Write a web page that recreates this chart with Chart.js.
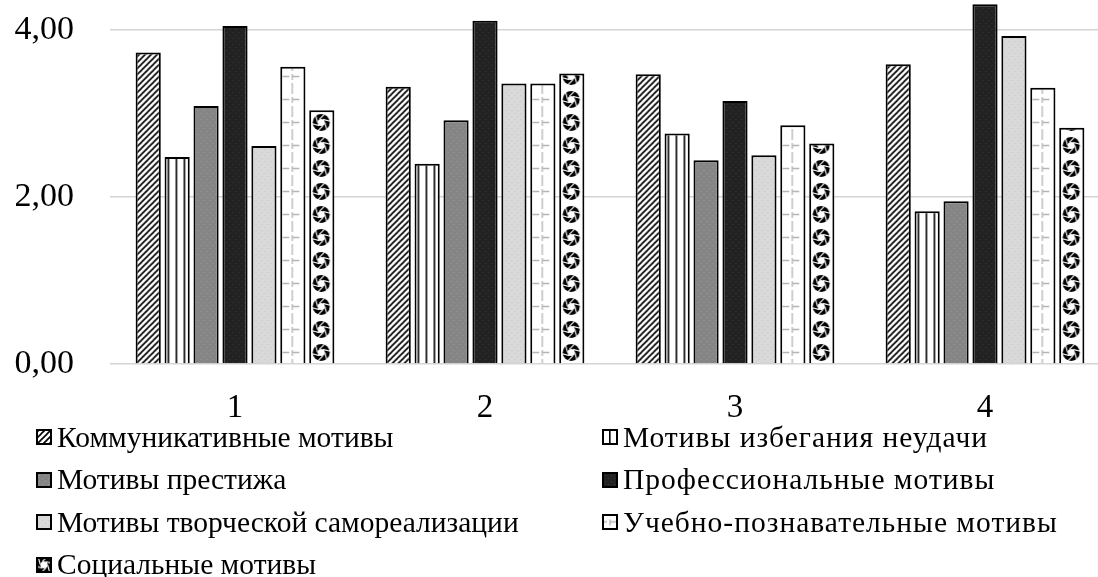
<!DOCTYPE html>
<html>
<head>
<meta charset="utf-8">
<script src="https://cdn.jsdelivr.net/npm/chart.js@4.4.0/dist/chart.umd.min.js"></script>
<style>
  html, body { margin: 0; padding: 0; background: #fff; overflow: hidden; width: 1098px; height: 577px; }
  #wrap { position: absolute; left: 0; top: 0; width: 1110px; height: 440px; }
  #legend {
    position: absolute; left: 36px; top: 416px;
    display: grid; grid-template-columns: 566px 490px;
    font-family: "Liberation Serif", serif; font-size: 29.5px; color: #000;
  }
  .item { height: 42.5px; display: flex; align-items: center; white-space: nowrap; }
  .item:nth-child(even) { letter-spacing: 1px; }
  .item canvas { margin-right: 5px; }
</style>
</head>
<body>
<div id="wrap"><canvas id="chart" width="1110" height="440"></canvas></div>
<div id="legend"></div>
<script>
// data
const categories = ['1', '2', '3', '4'];
const seriesNames = [
  'Коммуникативные мотивы',
  'Мотивы избегания неудачи',
  'Мотивы престижа',
  'Профессиональные мотивы',
  'Мотивы творческой самореализации',
  'Учебно-познавательные мотивы',
  'Социальные мотивы'
];
const kommunikativnye = [3.73, 3.32, 3.47, 3.59];
const izbeganiya = [2.48, 2.40, 2.76, 1.83];
const prestizha = [3.09, 2.92, 2.44, 1.95];
const professionalnye = [4.05, 4.11, 3.15, 4.31];
const tvorcheskie = [2.61, 3.36, 2.50, 3.93];
const uchebnye = [3.56, 3.36, 2.86, 3.31];
const socialnye = [3.04, 3.48, 2.64, 2.83];
const yTickValues = [0, 2, 4];
const yTickLabels = ['0,00', '2,00', '4,00'];

// pattern tiles
function hatch(c, w, h) {
  c.fillStyle = '#fff'; c.fillRect(0, 0, w, h);
  c.strokeStyle = '#000'; c.lineWidth = 1.6;
  [[0, h, w, 0], [-w / 2, h / 2, w / 2, -h / 2], [w / 2, h * 1.5, w * 1.5, h / 2]].forEach(function(l) {
    c.beginPath(); c.moveTo(l[0], l[1]); c.lineTo(l[2], l[3]); c.stroke();
  });
}
function vlines(c, w, h) {
  c.fillStyle = '#fff'; c.fillRect(0, 0, w, h);
  c.fillStyle = '#000'; c.fillRect(3, 0, 1.6, h);
}
function dots(bg, dot) {
  return function(c, w, h) {
    c.fillStyle = bg; c.fillRect(0, 0, w, h);
    c.fillStyle = dot; c.fillRect(1, 1, 1, 1); c.fillRect(4, 4, 1, 1);
  };
}
function grid(c, w, h) {
  c.fillStyle = '#fff'; c.fillRect(0, 0, w, h);
  c.strokeStyle = '#b5b5b5'; c.lineWidth = 1.3;
  c.setLineDash([6, 3]);
  c.beginPath(); c.moveTo(w / 2, 0); c.lineTo(w / 2, h); c.stroke();
  c.setLineDash([7, 3]);
  c.beginPath(); c.moveTo(2, h / 2); c.lineTo(w - 2, h / 2); c.stroke();
}
function aperture(c, w, h) {
  c.fillStyle = '#fff'; c.fillRect(0, 0, w, h);
  const cx = w / 2, cy = h / 2;
  c.fillStyle = '#000';
  c.beginPath(); c.arc(cx, cy, 8.5, 0, Math.PI * 2); c.fill();
  c.fillStyle = '#fff';
  c.beginPath(); c.arc(cx, cy, 3.6, 0, Math.PI * 2); c.fill();
  c.strokeStyle = '#fff'; c.lineWidth = 1.1;
  for (let k = 0; k < 6; k++) {
    const a = k * Math.PI / 3;
    c.beginPath();
    c.moveTo(cx + 3.6 * Math.cos(a), cy + 3.6 * Math.sin(a));
    c.lineTo(cx + 9 * Math.cos(a + 0.9), cy + 9 * Math.sin(a + 0.9));
    c.stroke();
  }
}

const tiles = [
  [hatch, 6, 6],
  [vlines, 8, 8],
  [dots('#858585', '#9a9a9a'), 6, 6],
  [dots('#222222', '#3a3a3a'), 6, 6],
  [dots('#d9d9d9', '#c8c8c8'), 6, 6],
  [grid, 24, 23.3],
  [aperture, 24, 23.3]
];

function makePattern(t) {
  const tile = document.createElement('canvas');
  tile.width = Math.round(t[1]); tile.height = Math.round(t[2]);
  const c = tile.getContext('2d');
  t[0](c, tile.width, tile.height);
  return c.createPattern(tile, 'repeat');
}

const seriesValues = [kommunikativnye, izbeganiya, prestizha, professionalnye, tvorcheskie, uchebnye, socialnye];
// one pattern per bar so each can be lined up with its bar
const barPatterns = seriesValues.map(function(vals, d) {
  return vals.map(function() { return makePattern(tiles[d]); });
});

const alignPatterns = {
  id: 'alignPatterns',
  beforeDatasetsDraw: function(chart) {
    chart.data.datasets.forEach(function(ds, d) {
      chart.getDatasetMeta(d).data.forEach(function(bar, i) {
        const p = barPatterns[d][i];
        if (p && p.setTransform) {
          p.setTransform(new DOMMatrix().translate(bar.x - bar.width / 2, chart.chartArea.bottom));
        }
      });
    });
  }
};

const ctx = document.getElementById('chart').getContext('2d');
const chart = new Chart(ctx, {
  type: 'bar',
  data: {
    labels: categories,
    datasets: seriesNames.map(function(name, d) {
      return {
        label: name,
        data: seriesValues[d],
        backgroundColor: barPatterns[d],
        borderColor: '#000',
        borderWidth: 2,
        categoryPercentage: 0.81,
        barPercentage: 0.87
      };
    })
  },
  options: {
    responsive: false,
    animation: false,
    layout: { padding: 0 },
    plugins: { legend: { display: false }, tooltip: { enabled: false } },
    scales: {
      x: {
        grid: { display: false, drawTicks: false },
        border: { display: false },
        ticks: { color: '#000', padding: 25, font: { family: 'Liberation Serif', size: 33 } },
        afterFit: function(s) { s.height = 76; s.paddingLeft = 0; s.paddingRight = 0; }
      },
      y: {
        min: 0,
        max: 4.36,
        grid: { color: '#d4d4d4', lineWidth: 1.5, drawTicks: false },
        border: { display: false },
        afterBuildTicks: function(s) { s.ticks = yTickValues.map(function(v) { return { value: v }; }); },
        ticks: {
          color: '#000',
          padding: 36,
          font: { family: 'Liberation Serif', size: 34 },
          callback: function(v, i) { return yTickLabels[i]; }
        },
        afterFit: function(s) { s.width = 110; s.paddingTop = 0; s.paddingBottom = 0; }
      }
    }
  },
  plugins: [alignPatterns]
});

// legend in two columns, as in the picture
const legend = document.getElementById('legend');
chart.data.datasets.forEach(function(ds, d) {
  const item = document.createElement('div');
  item.className = 'item';
  const icon = document.createElement('canvas');
  icon.width = 16; icon.height = 16;
  const ic = icon.getContext('2d');
  const p = makePattern(tiles[d]);
  p.setTransform(new DOMMatrix().translate(8 - tiles[d][1] / 2, 8 - tiles[d][2] / 2));
  ic.fillStyle = p;
  ic.fillRect(0, 0, 16, 16);
  ic.strokeStyle = '#000'; ic.lineWidth = 2;
  ic.strokeRect(1, 1, 14, 14);
  item.appendChild(icon);
  item.appendChild(document.createTextNode(ds.label));
  legend.appendChild(item);
});
</script>
</body>
</html>
